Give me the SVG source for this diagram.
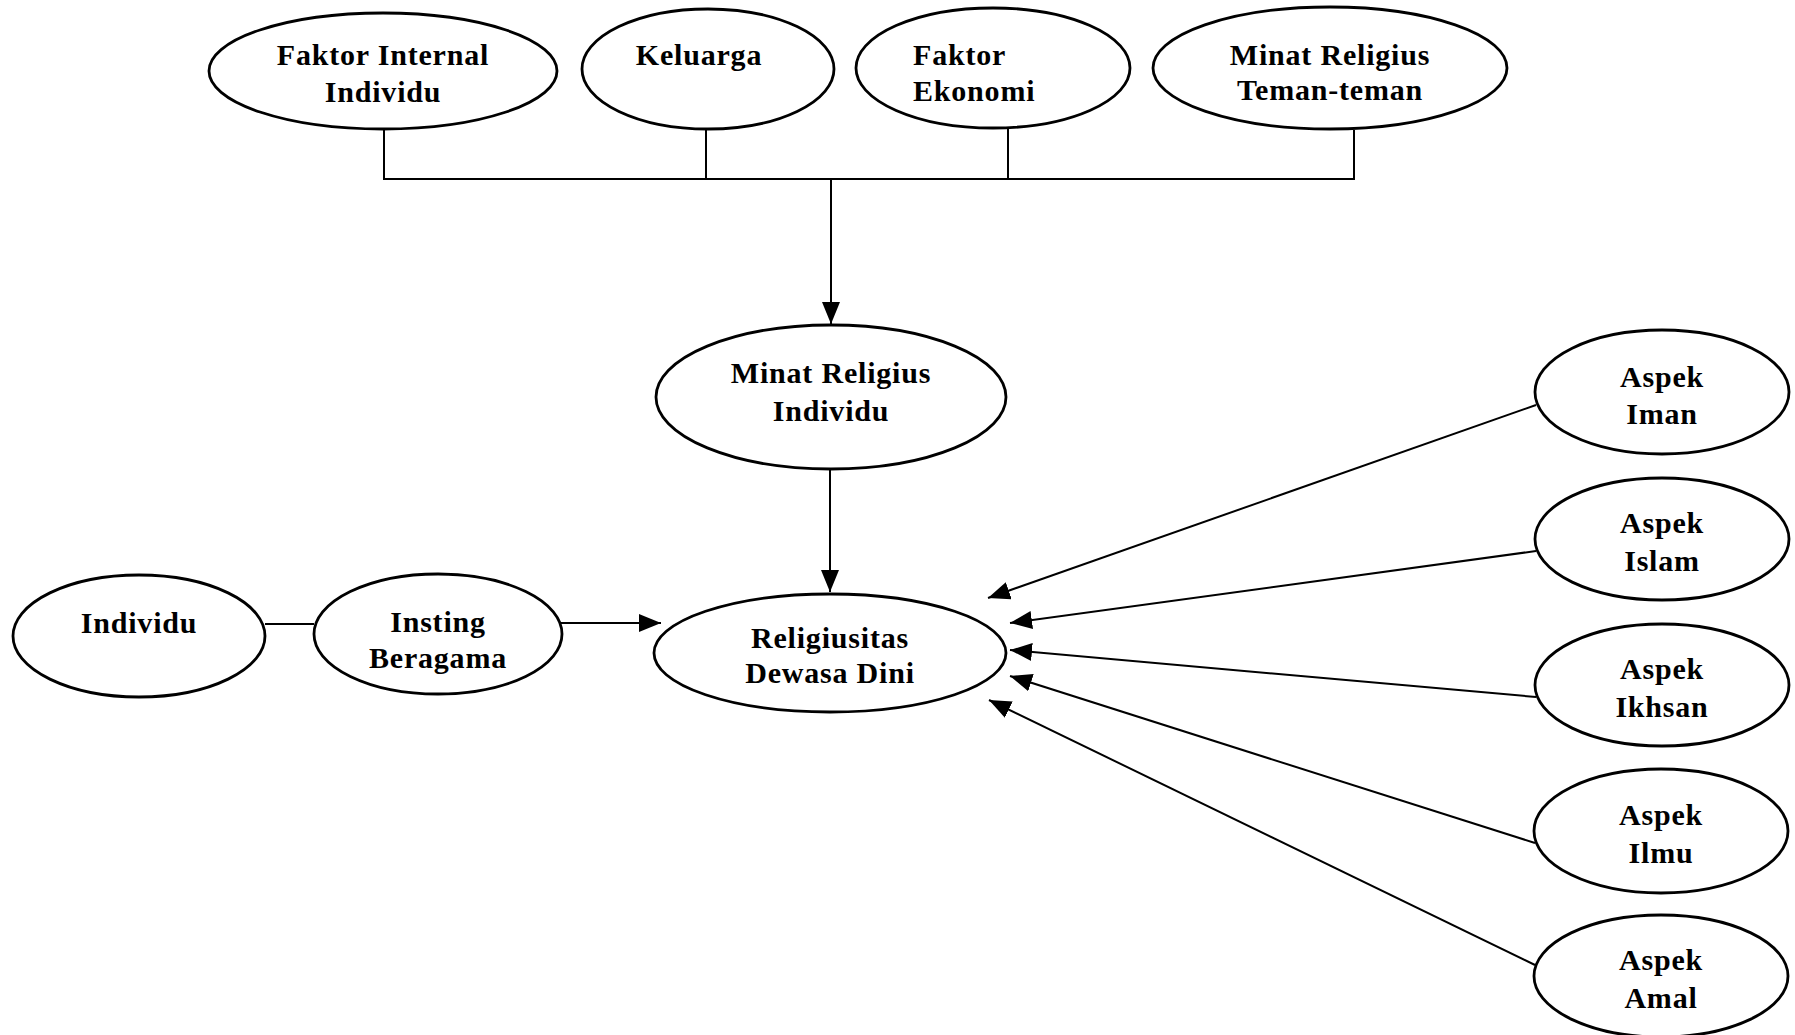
<svg xmlns="http://www.w3.org/2000/svg" width="1795" height="1035" viewBox="0 0 1795 1035">
<style>
.node ellipse{fill:#fff;stroke:#000;stroke-width:2.8}
.node text{font-family:"Liberation Serif","Times New Roman",serif;font-weight:bold;font-size:30px;fill:#000;text-anchor:middle;letter-spacing:0.8px}
.conn line,.conn polyline{stroke:#000;stroke-width:2;fill:none}
.arr{marker-end:url(#ah)}
</style>
<defs>
<marker id="ah" markerUnits="userSpaceOnUse" markerWidth="22" markerHeight="18" refX="22" refY="9" orient="auto">
<path d="M0,0 L22,9 L0,18 Z" fill="#000"/>
</marker>
</defs>
<rect width="1795" height="1035" fill="#fff"/>
<g class="conn">
<polyline points="384,129 384,179 1354,179 1354,130"/>
<line x1="706" y1="129" x2="706" y2="179"/>
<line x1="1008" y1="128" x2="1008" y2="179"/>
<line class="arr" x1="831" y1="179" x2="831" y2="324"/>
<line class="arr" x1="830" y1="470" x2="830" y2="592"/>
<line x1="265" y1="624" x2="314" y2="624"/>
<line class="arr" x1="561" y1="623" x2="661" y2="623"/>
<line class="arr" x1="1536" y1="405" x2="988" y2="598"/>
<line class="arr" x1="1536" y1="551" x2="1010" y2="623"/>
<line class="arr" x1="1536" y1="697" x2="1010" y2="650"/>
<line class="arr" x1="1535" y1="843" x2="1010" y2="676"/>
<line class="arr" x1="1535" y1="965" x2="989" y2="700"/>
</g>
<g id="faktor-internal" class="node"><ellipse cx="383" cy="71" rx="174" ry="58"/><text x="383" y="65">Faktor Internal</text><text x="383" y="102">Individu</text></g>
<g id="keluarga" class="node"><ellipse cx="708" cy="69" rx="126" ry="60"/><text x="699" y="65">Keluarga</text></g>
<g id="faktor-ekonomi" class="node"><ellipse cx="993" cy="68" rx="137" ry="60"/><text x="913" y="65" style="text-anchor:start">Faktor</text><text x="913" y="101" style="text-anchor:start">Ekonomi</text></g>
<g id="minat-teman" class="node"><ellipse cx="1330" cy="68" rx="177" ry="61"/><text x="1330" y="65">Minat Religius</text><text x="1330" y="100">Teman-teman</text></g>
<g id="minat-individu" class="node"><ellipse cx="831" cy="397" rx="175" ry="72"/><text x="831" y="383">Minat Religius</text><text x="831" y="421">Individu</text></g>
<g id="individu" class="node"><ellipse cx="139" cy="636" rx="126" ry="61"/><text x="139" y="633">Individu</text></g>
<g id="insting" class="node"><ellipse cx="438" cy="634" rx="124" ry="60"/><text x="438" y="632">Insting</text><text x="438" y="668">Beragama</text></g>
<g id="religiusitas" class="node"><ellipse cx="830" cy="653" rx="176" ry="59"/><text x="830" y="648">Religiusitas</text><text x="830" y="683">Dewasa Dini</text></g>
<g id="aspek-iman" class="node"><ellipse cx="1662" cy="392" rx="127" ry="62"/><text x="1662" y="387">Aspek</text><text x="1662" y="424">Iman</text></g>
<g id="aspek-islam" class="node"><ellipse cx="1662" cy="539" rx="127" ry="61"/><text x="1662" y="533">Aspek</text><text x="1662" y="571">Islam</text></g>
<g id="aspek-ikhsan" class="node"><ellipse cx="1662" cy="685" rx="127" ry="61"/><text x="1662" y="679">Aspek</text><text x="1662" y="717">Ikhsan</text></g>
<g id="aspek-ilmu" class="node"><ellipse cx="1661" cy="831" rx="127" ry="62"/><text x="1661" y="825">Aspek</text><text x="1661" y="863">Ilmu</text></g>
<g id="aspek-amal" class="node"><ellipse cx="1661" cy="976" rx="127" ry="61"/><text x="1661" y="970">Aspek</text><text x="1661" y="1008">Amal</text></g>
</svg>
